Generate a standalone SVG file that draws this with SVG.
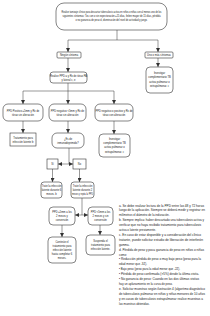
<svg xmlns="http://www.w3.org/2000/svg" width="210" height="316" viewBox="0 0 210 316">
<style>
.b{fill:#fff;stroke:#333;stroke-width:0.6}
.t{font-family:"Liberation Sans Narrow","Liberation Sans",Arial,sans-serif;font-size:2.6px;fill:#222;text-anchor:middle}
.n{font-family:"Liberation Sans Narrow","Liberation Sans",Arial,sans-serif;font-size:2.9px;fill:#222}
.c{fill:none;stroke:#333;stroke-width:0.5}
</style>
<defs>
<marker id="a" viewBox="0 0 6 6" refX="6" refY="3" markerWidth="4" markerHeight="4" orient="auto" markerUnits="userSpaceOnUse"><path d="M0,0L6,3L0,6z" fill="#333"/></marker>
</defs>
<rect width="210" height="316" fill="#fff"/>
<g id="connectors">
<path class="c" d="M117,30V40M68,40H158"/>
<path class="c" d="M68,40V52" marker-end="url(#a)"/>
<path class="c" d="M158,40V52" marker-end="url(#a)"/>
<path class="c" d="M68,58V72" marker-end="url(#a)"/>
<path class="c" d="M158,58V67" marker-end="url(#a)"/>
<path class="c" d="M68,83V91M23,91H114"/>
<path class="c" d="M23,91V104" marker-end="url(#a)"/>
<path class="c" d="M68,91V104" marker-end="url(#a)"/>
<path class="c" d="M114,91V104" marker-end="url(#a)"/>
<path class="c" d="M23,121V133" marker-end="url(#a)"/>
<path class="c" d="M68,121V133" marker-end="url(#a)"/>
<path class="c" d="M114,121V134" marker-end="url(#a)"/>
<path class="c" d="M69,148V164"/>
<path class="c" d="M69,164H58" marker-end="url(#a)"/>
<path class="c" d="M69,164H73" marker-end="url(#a)"/>
<path class="c" d="M52.5,169V182" marker-end="url(#a)"/>
<path class="c" d="M79.5,169V182" marker-end="url(#a)"/>
<path class="c" d="M82,198V215"/>
<path class="c" d="M82,215H75" marker-end="url(#a)"/>
<path class="c" d="M82,215H88" marker-end="url(#a)"/>
<path class="c" d="M62,225V237" marker-end="url(#a)"/>
<path class="c" d="M100,225V235" marker-end="url(#a)"/>
</g>
<g id="n1"><rect class="b" x="56" y="3" width="111" height="27" rx="8"/>
<text class="t"><tspan x="111.5" y="12.5" textLength="100" lengthAdjust="spacingAndGlyphs">Realice tamizaje clínico para descartar tuberculosis activa en niños o niñas con al menos uno de los</tspan><tspan x="111.5" y="16.8" textLength="98" lengthAdjust="spacingAndGlyphs">siguientes síntomas: Tos con o sin expectoración ≥15 días, fiebre mayor de 15 días, pérdida</tspan><tspan x="111.5" y="21.1" textLength="72" lengthAdjust="spacingAndGlyphs">o no ganancia de peso d, disminución del nivel de actividad y juego.</tspan></text></g>
<g id="n2"><rect class="b" x="57" y="52" width="24" height="6" rx="1"/><text class="t" x="69" y="56">Ningún síntoma</text></g>
<g id="n3"><rect class="b" x="145" y="52" width="28" height="6" rx="1"/><text class="t" x="159" y="56">Uno o más síntomas</text></g>
<g id="n4"><rect class="b" x="50" y="72" width="37" height="11" rx="3"/><text class="t"><tspan x="68.5" y="77">Realice PPD a y Rx de tórax PA</tspan><tspan x="68.5" y="81">y lateral c, e</tspan></text></g>
<g id="n5"><rect class="b" x="146" y="67" width="27" height="26" rx="4"/><text class="t"><tspan x="159.5" y="74">Investigar</tspan><tspan x="159.5" y="78.3">complementario TB</tspan><tspan x="159.5" y="82.6">activa pulmonar o</tspan><tspan x="159.5" y="86.9">extrapulmonar. c</tspan></text></g>
<g id="n6"><rect class="b" x="3" y="104" width="40" height="17" rx="5"/><text class="t"><tspan x="23" y="111.5">PPD Positivo ≥5mm y Rx de</tspan><tspan x="23" y="115.8">tórax sin alteración</tspan></text></g>
<g id="n7"><rect class="b" x="49" y="104" width="37" height="17" rx="5"/><text class="t"><tspan x="67.5" y="111.5">PPD negativo &lt;5mm y Rx de</tspan><tspan x="67.5" y="115.8">tórax sin alteración</tspan></text></g>
<g id="n8"><rect class="b" x="95" y="104" width="38" height="17" rx="5"/><text class="t"><tspan x="114" y="111.5">PPD negativo o positivo y Rx de</tspan><tspan x="114" y="115.8">tórax con alteración</tspan></text></g>
<g id="n9"><rect class="b" x="10" y="133" width="26" height="13"/><text class="t"><tspan x="23" y="139">Tratamiento para</tspan><tspan x="23" y="143">infección latente b</tspan></text></g>
<g id="n10"><rect class="b" x="52" y="133" width="32" height="15" rx="5"/><text class="t"><tspan x="68" y="139.5">¿Es de</tspan><tspan x="68" y="143.8">inmunodeprimido?</tspan></text></g>
<g id="n11"><rect class="b" x="99" y="134" width="31" height="23" rx="4"/><text class="t"><tspan x="114.5" y="140">Investigar</tspan><tspan x="114.5" y="144.2">complementario TB</tspan><tspan x="114.5" y="148.4">activa pulmonar o</tspan><tspan x="114.5" y="152.6">extrapulmonar. c</tspan></text></g>
<g id="n12"><rect class="b" x="47" y="159" width="11" height="10"/><text class="t" x="52.5" y="165">Sí</text></g>
<g id="n13"><rect class="b" x="73" y="159" width="13" height="10"/><text class="t" x="79.5" y="165">No</text></g>
<g id="n14"><rect class="b" x="41" y="182" width="21" height="16" rx="3"/><text class="t"><tspan x="51.5" y="187">Trate la infección</tspan><tspan x="51.5" y="191">latente durante 6</tspan><tspan x="51.5" y="195">meses. b</tspan></text></g>
<g id="n15"><rect class="b" x="71" y="182" width="23" height="16" rx="3"/><text class="t"><tspan x="82.5" y="187">Trate la infección</tspan><tspan x="82.5" y="191">latente durante 2</tspan><tspan x="82.5" y="195" textLength="21" lengthAdjust="spacingAndGlyphs">meses y repita la PPD</tspan></text></g>
<g id="n16"><rect class="b" x="49" y="207" width="26" height="18" rx="4"/><text class="t"><tspan x="62" y="213">PPD ≥5mm a los</tspan><tspan x="62" y="217">2 meses y</tspan><tspan x="62" y="221">conversión</tspan></text></g>
<g id="n17"><rect class="b" x="88" y="207" width="25" height="18" rx="4"/><text class="t"><tspan x="100.5" y="213">PPD &lt;5mm a los</tspan><tspan x="100.5" y="217">2 meses y sin</tspan><tspan x="100.5" y="221">conversión</tspan></text></g>
<g id="n18"><rect class="b" x="48" y="237" width="28" height="26" rx="4"/><text class="t"><tspan x="62" y="242.5">Continúe el</tspan><tspan x="62" y="246.7">tratamiento para</tspan><tspan x="62" y="250.9">infección latente</tspan><tspan x="62" y="255.1">hasta completar 6</tspan><tspan x="62" y="259.3">meses.</tspan></text></g>
<g id="n19"><rect class="b" x="86" y="235" width="29" height="20" rx="4"/><text class="t"><tspan x="100.5" y="241.5">Suspenda el</tspan><tspan x="100.5" y="245.7">tratamiento para</tspan><tspan x="100.5" y="249.9">infección latente.</tspan></text></g>
<g id="notes"><text class="n">
<tspan x="119" y="206.5" textLength="85" lengthAdjust="spacingAndGlyphs">a. Se debe realizar lectura de la PPD entre las 48 y 72 horas</tspan>
<tspan x="119" y="211.4" textLength="86" lengthAdjust="spacingAndGlyphs">luego de la aplicación. Siempre se deberá medir y registrar en</tspan>
<tspan x="119" y="216.3">milímetros el diámetro de la induración.</tspan>
<tspan x="119" y="221.2" textLength="85" lengthAdjust="spacingAndGlyphs">b. Siempre implica: haber descartado una tuberculosis activa y</tspan>
<tspan x="119" y="226.1" textLength="82" lengthAdjust="spacingAndGlyphs">verificar que no haya recibido tratamiento para tuberculosis</tspan>
<tspan x="119" y="231">activa o latente previamente.</tspan>
<tspan x="119" y="235.9" textLength="82" lengthAdjust="spacingAndGlyphs">c. En caso de estar disponible y a consideración del clínico</tspan>
<tspan x="119" y="240.8" textLength="84" lengthAdjust="spacingAndGlyphs">tratante, puede solicitar estudio de liberación de interferón</tspan>
<tspan x="119" y="245.7">gamma.</tspan>
<tspan x="119" y="250.6" textLength="85" lengthAdjust="spacingAndGlyphs">d. Pérdida de peso y poca ganancia de peso en niños o niñas</tspan>
<tspan x="119" y="255.5">como:</tspan>
<tspan x="119" y="260.4" textLength="82" lengthAdjust="spacingAndGlyphs">• Reducción pérdida de peso o muy bajo peso (peso para la</tspan>
<tspan x="119" y="265.3">edad menor que -3Z).</tspan>
<tspan x="119" y="270.2">• Bajo peso (peso para la edad menor que -2Z).</tspan>
<tspan x="119" y="275.1" textLength="80" lengthAdjust="spacingAndGlyphs">• Pérdida de peso confirmada (&gt;5%) desde la última visita.</tspan>
<tspan x="119" y="280" textLength="80" lengthAdjust="spacingAndGlyphs">• No ganancia de peso: Cuando en las dos últimas visitas</tspan>
<tspan x="119" y="284.9">hay un aplanamiento en la curva de peso.</tspan>
<tspan x="119" y="289.8" textLength="86" lengthAdjust="spacingAndGlyphs">e. Solicitar muestras según ilustración 4 (algoritmo diagnóstico</tspan>
<tspan x="119" y="294.7" textLength="86" lengthAdjust="spacingAndGlyphs">de tuberculosis pulmonar en niños y niñas menores de 10 años</tspan>
<tspan x="119" y="299.6" textLength="84" lengthAdjust="spacingAndGlyphs">y en casos de tuberculosis extrapulmonar realice muestras a</tspan>
<tspan x="119" y="304.5">las muestras obtenidas.</tspan>
</text></g>
</svg>
